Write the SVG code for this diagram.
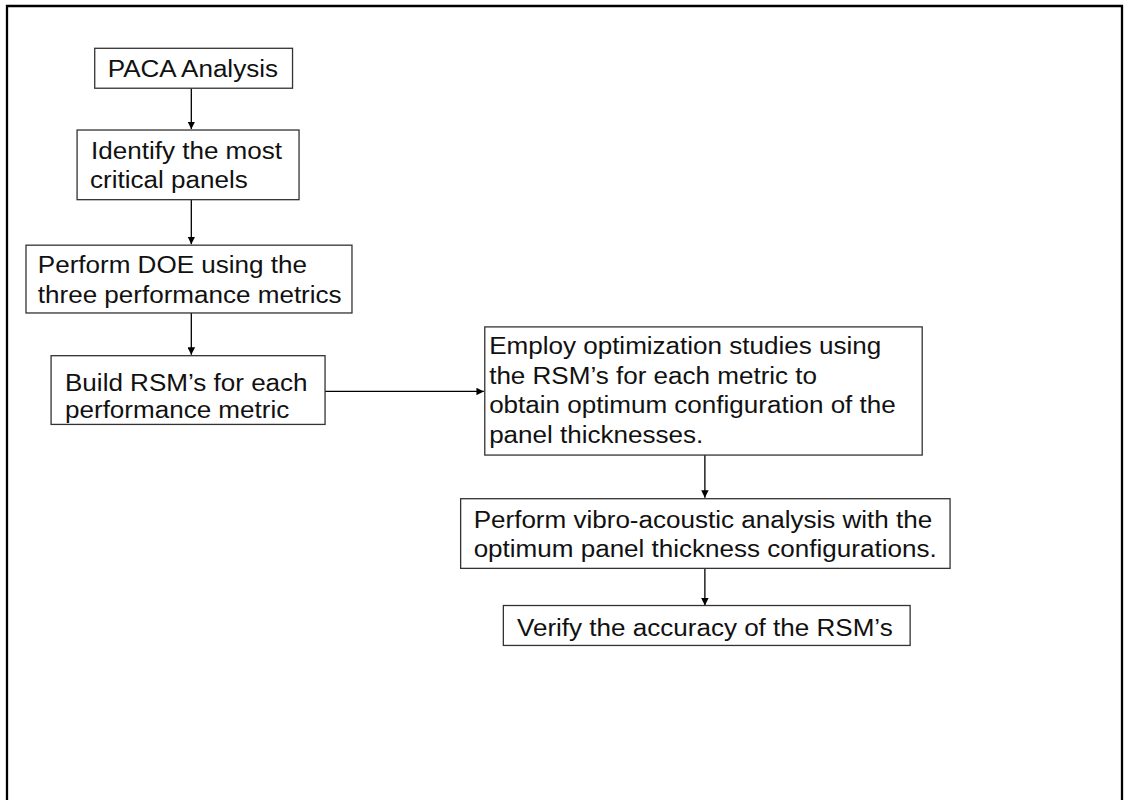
<svg xmlns="http://www.w3.org/2000/svg" width="1133" height="800" viewBox="0 0 1133 800">
<style>
.box{fill:#fff;stroke:#333;stroke-width:1.4}
.t{font-family:"Liberation Sans",Arial,sans-serif;font-size:25.5px;fill:#111}
.c{stroke:#000;stroke-width:1.4;fill:none;marker-end:url(#ah)}
</style>
<defs>
<marker id="ah" markerWidth="8" markerHeight="8" refX="8" refY="4" orient="auto" markerUnits="userSpaceOnUse">
<path d="M0,0 L8,4 L0,8 Z" fill="#000"/>
</marker>
</defs>
<rect width="1133" height="800" fill="#fff"/>
<path d="M7,800 V6 H1122 V800" fill="none" stroke="#000" stroke-width="2.3"/>
<g transform="scale(0.9287)">
<g id="connectors">
<line class="c" x1="206" y1="95" x2="206" y2="139"/>
<line class="c" x1="206" y1="215" x2="206" y2="263"/>
<line class="c" x1="206" y1="337" x2="206" y2="382"/>
<line class="c" x1="350" y1="421.5" x2="521" y2="421.5"/>
<line class="c" x1="759" y1="490" x2="759" y2="536"/>
<line class="c" x1="759" y1="612" x2="759" y2="652"/>
</g>
<g id="n1">
<rect class="box" x="102" y="52" width="213" height="43"/>
<text class="t" transform="translate(116,83) scale(1.1,1)">PACA Analysis</text>
</g>
<g id="n2">
<rect class="box" x="83" y="140" width="239" height="75"/>
<text class="t" transform="translate(98,171) scale(1.1,1)">Identify the most</text>
<text class="t" transform="translate(97,202) scale(1.1,1)">critical panels</text>
</g>
<g id="n3">
<rect class="box" x="28" y="264" width="351" height="73"/>
<text class="t" transform="translate(40.7,294) scale(1.1,1)">Perform DOE using the</text>
<text class="t" transform="translate(40.7,326) scale(1.1,1)">three performance metrics</text>
</g>
<g id="n4">
<rect class="box" x="55" y="383" width="295" height="74"/>
<text class="t" transform="translate(70,421) scale(1.1,1)">Build RSM’s for each</text>
<text class="t" transform="translate(70,450) scale(1.1,1)">performance metric</text>
</g>
<g id="n5">
<rect class="box" x="522" y="352" width="471" height="138"/>
<text class="t" transform="translate(526.7,381.5) scale(1.1,1)">Employ optimization studies using</text>
<text class="t" transform="translate(526.7,413) scale(1.1,1)">the RSM’s for each metric to</text>
<text class="t" transform="translate(526.7,445) scale(1.1,1)">obtain optimum configuration of the</text>
<text class="t" transform="translate(526.7,477) scale(1.1,1)">panel thicknesses.</text>
</g>
<g id="n6">
<rect class="box" x="496" y="537" width="527" height="75"/>
<text class="t" transform="translate(510,568) scale(1.1,1)">Perform vibro-acoustic analysis with the</text>
<text class="t" transform="translate(510,600) scale(1.1,1)">optimum panel thickness configurations.</text>
</g>
<g id="n7">
<rect class="box" x="542" y="652" width="438" height="43"/>
<text class="t" transform="translate(556.7,685) scale(1.1,1)">Verify the accuracy of the RSM’s</text>
</g>
</g>
</svg>
